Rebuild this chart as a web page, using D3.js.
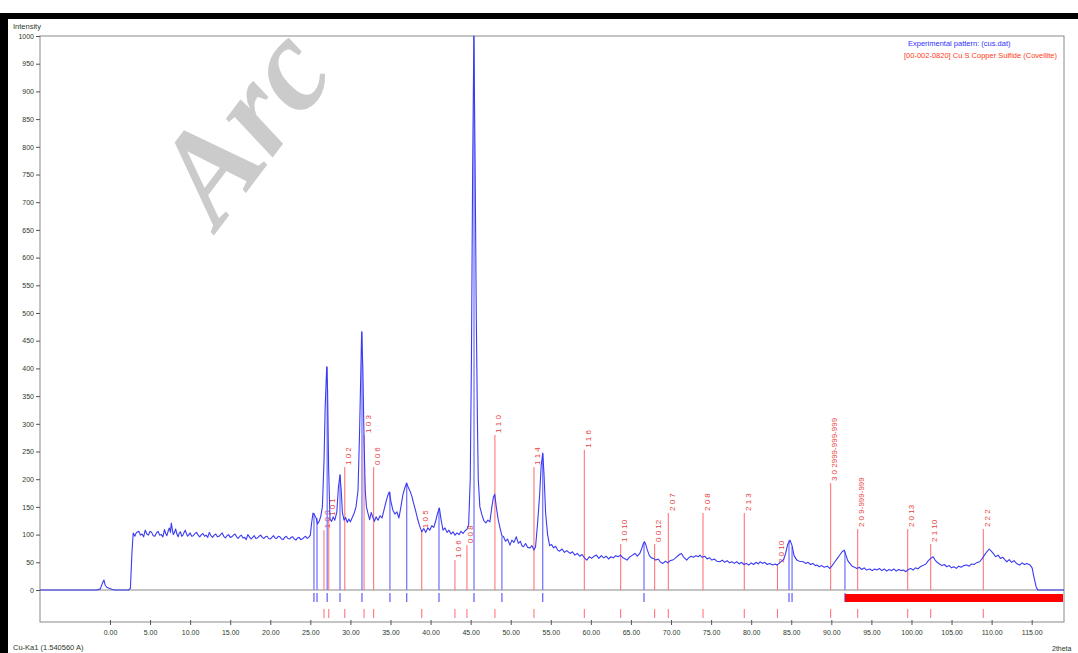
<!DOCTYPE html>
<html>
<head>
<meta charset="utf-8">
<script src="https://cdn.jsdelivr.net/npm/d3@7"></script>
<style>
body { margin: 0; background: #fff; }
svg { display: block; font-family: "Liberation Sans", Arial, sans-serif; }
</style>
</head>
<body>
<svg id="chart" width="1078" height="653"></svg>
<script>
// experimental pattern (2theta, intensity)
const pattern = [
  [-8.73,0],[-1.6,0],[-1.2,2],[-0.95,12],[-0.75,18],[-0.6,9],[-0.4,5],[-0.1,3],[0.3,1],[0.6,0],[2.3,0],[2.55,3],[2.75,70],[2.9,103],
  [3.1,97],[3.3,104],[3.6,106],[3.8,99],[4.0,101],[4.2,96],[4.4,108],[4.6,101],[4.8,99],[5.0,106],[5.2,104],[5.4,98],[5.6,97],[5.8,103],
  [6.0,106],[6.2,99],[6.4,100],[6.6,96],[6.8,109],[6.95,102],[7.1,98],[7.25,106],[7.4,112],[7.55,104],[7.65,121],[7.8,108],[7.9,100],
  [8.05,104],[8.2,110],[8.35,101],[8.5,96],[8.65,103],[8.8,105],[8.95,97],[9.1,99],[9.25,104],[9.4,108],[9.55,101],[9.7,97],[9.85,100],
  [10.0,103],[10.2,97],[10.4,98],[10.6,102],[10.8,104],[11.0,99],[11.2,96],[11.4,100],[11.6,102],[11.8,97],[12.0,99],[12.2,95],[12.4,104],
  [12.6,98],[12.8,95],[13.0,99],[13.2,101],[13.4,96],[13.6,97],[13.8,100],[14.0,103],[14.2,97],[14.4,94],[14.6,98],[14.8,100],[15.0,95],
  [15.2,96],[15.4,99],[15.6,101],[15.8,96],[16.0,93],[16.2,97],[16.4,99],[16.6,94],[16.8,95],[17.0,91],[17.2,100],[17.4,96],[17.6,92],
  [17.8,95],[18.0,98],[18.2,93],[18.4,94],[18.6,97],[18.8,99],[19.0,95],[19.2,93],[19.4,96],[19.6,97],[19.8,93],[20.0,92],[20.2,95],
  [20.4,98],[20.6,94],[20.8,93],[21.0,97],[21.2,96],[21.4,92],[21.6,91],[21.8,95],[22.0,97],[22.2,93],[22.4,92],[22.6,95],[22.8,96],
  [23.0,92],[23.2,90],[23.4,94],[23.6,95],[23.8,91],[24.0,92],[24.2,95],[24.4,97],[24.6,93],[24.8,95],
  [25.0,99],[25.15,120],[25.33,139],[25.5,136],[25.7,131],[25.9,119],[26.1,124],[26.3,133],[26.5,150],[26.7,230],[26.85,330],[27.04,403],
  [27.15,360],[27.28,220],[27.45,128],[27.65,124],[27.85,132],[28.05,126],[28.3,140],[28.5,185],[28.7,208],[28.85,180],[29.0,140],
  [29.2,126],[29.4,131],[29.6,122],[29.8,128],[30.0,123],[30.2,130],[30.45,138],[30.7,150],[30.95,180],[31.15,290],[31.4,466],[31.55,400],
  [31.7,270],[31.85,180],[32.0,150],[32.2,138],[32.4,127],[32.6,140],[32.8,131],[33.0,124],[33.2,132],[33.45,126],[33.7,134],[33.95,130],
  [34.2,145],[34.45,160],[34.65,170],[34.85,177],[35.05,160],[35.3,144],[35.55,137],[35.8,141],[36.05,130],[36.3,150],[36.55,172],
  [36.8,185],[37.0,193],[37.2,186],[37.45,178],[37.65,170],[37.85,158],[38.1,145],[38.35,130],[38.6,117],[38.9,105],[39.15,111],
  [39.4,104],[39.65,112],[39.9,108],[40.15,116],[40.4,113],[40.65,125],[40.9,140],[41.1,148],[41.3,128],[41.55,108],[41.8,112],
  [42.05,104],[42.3,108],[42.55,101],[42.8,105],[43.05,99],[43.3,103],[43.55,100],[43.8,106],[44.05,102],[44.3,107],[44.55,110],
  [44.75,118],[44.95,200],[45.1,420],[45.25,760],[45.4,1000],[45.55,780],[45.7,500],[45.85,300],[45.95,200],[46.15,150],[46.4,136],
  [46.65,125],[46.9,121],[47.15,126],[47.4,123],[47.65,150],[47.85,168],[48.0,173],[48.2,150],[48.45,126],[48.7,110],[48.9,98],
  [49.1,96],[49.35,88],[49.6,92],[49.9,81],[50.15,90],[50.4,86],[50.7,96],[50.95,84],[51.2,88],[51.4,80],[51.6,78],[51.85,84],
  [52.1,77],[52.4,76],[52.65,80],[52.9,72],[53.1,78],[53.35,120],[53.6,170],[53.8,225],[54.0,247],[54.15,210],[54.35,140],[54.6,100],
  [54.85,80],[55.1,82],[55.35,76],[55.6,79],[55.85,72],
  [56.1,70],[56.4,74],[56.7,68],[57.0,71],[57.4,66],[57.7,69],[58.0,63],[58.3,66],[58.6,61],[58.9,64],[59.2,58],[59.5,54],[59.8,60],
  [60.1,57],[60.4,61],[60.7,63],[61.0,57],[61.3,62],[61.6,58],[61.9,61],[62.2,56],[62.5,60],[62.8,58],[63.1,62],[63.4,60],[63.7,63],
  [64.0,58],[64.3,56],[64.5,54],[64.8,59],[65.1,62],[65.5,66],[65.8,61],[66.1,66],[66.35,75],[66.55,84],[66.7,87],[66.85,82],[67.05,72],
  [67.3,62],[67.55,58],[67.8,57],[68.1,54],[68.4,56],[68.7,50],[69.0,48],[69.3,52],[69.6,49],[69.9,53],[70.2,54],[70.5,57],[70.8,61],
  [71.05,64],[71.3,66],[71.55,60],[71.95,54],[72.2,58],[72.5,61],[72.8,59],[73.1,62],[73.4,60],[73.6,63],[73.9,59],[74.2,61],[74.5,56],
  [74.8,58],[75.1,54],[75.4,56],[75.7,52],[76.1,51],[76.4,54],[76.7,50],[77.0,53],[77.3,49],[77.6,51],[77.9,48],[78.2,51],[78.5,47],
  [78.8,50],[79.1,46],[79.4,48],[79.7,45],[80.0,49],[80.3,46],[80.6,50],[80.9,47],[81.1,51],[81.4,48],[81.7,50],[82.0,46],[82.3,48],
  [82.7,45],[83.0,47],[83.2,45],[83.5,48],[83.8,52],[84.05,55],[84.3,66],[84.55,82],[84.85,90],[85.1,80],[85.35,62],[85.7,54],[86.0,52],
  [86.5,51],[86.8,48],[87.1,50],[87.4,46],[87.7,48],[88.0,44],[88.2,45],[88.5,42],[88.8,44],[89.1,41],[89.5,43],[89.8,39],[90.1,44],
  [90.4,50],[90.8,58],[91.1,64],[91.35,69],[91.6,72],[91.85,62],[92.05,53],[92.3,48],[92.6,43],[92.9,41],[93.2,39],[93.5,41],[93.8,37],
  [94.1,40],[94.4,36],[94.8,38],[95.1,35],[95.4,38],[95.7,36],[96.0,39],[96.3,35],[96.6,38],[96.9,34],[97.2,37],[97.5,35],[97.8,38],
  [98.1,34],[98.4,37],[98.7,35],[99.0,36],[99.3,33],[99.6,37],[99.9,39],[100.2,36],[100.5,40],[100.8,38],[101.1,42],[101.4,44],
  [101.8,47],[102.1,53],[102.4,57],[102.7,60],[102.95,54],[103.2,50],[103.5,47],[103.8,44],[104.1,46],[104.4,42],[104.7,44],[105.0,40],
  [105.3,42],[105.6,39],[105.9,43],[106.2,41],[106.5,44],[106.9,45],[107.2,43],[107.5,47],[107.8,46],[108.1,49],[108.5,51],[108.8,56],
  [109.1,63],[109.4,69],[109.7,74],[109.95,70],[110.2,66],[110.5,60],[110.8,63],[111.1,57],[111.4,59],[111.7,54],[111.9,51],[112.2,55],
  [112.5,50],[112.8,53],[113.1,48],[113.5,45],[113.8,49],[114.1,46],[114.4,48],[114.8,45],[115.05,40],[115.3,22],[115.55,6],[115.75,0],
  [119.03,0]
];

// peaks found in the pattern (blue sticks)
const peakPos = [25.45, 25.83, 27.1, 28.7, 31.44, 34.93, 37.02, 41.05, 45.42, 48.9, 53.99, 66.63, 84.72, 85.1, 91.7];
const peakInt = [139, 130, 403, 208, 466, 177, 193, 148, 1000, 96, 247, 87, 90, 78, 70];

// reference card 00-002-0820 covellite (red sticks)
const refPos = [26.7, 27.3, 29.3, 31.7, 32.9, 38.9, 43.04, 44.54, 48.03, 52.9, 59.18, 63.72, 67.96, 69.66, 73.99, 79.14, 83.28, 89.92, 93.29, 99.53, 102.4, 108.96];
const refInt = [108, 130, 222, 280, 222, 108, 54, 81, 280, 222, 253, 83, 83, 139, 139, 139, 45, 193, 110, 110, 83, 110];
const refLabel = ['1 0 0', '1 0 1', '1 0 2', '1 0 3', '0 0 6', '1 0 5', '1 0 6', '0 0 8', '1 1 0', '1 1 4', '1 1 6', '1 0 10', '0 0 12',
  '2 0 7', '2 0 8', '2 1 3', '2 0 10', '3 0 2999-999-999', '2 0 9-999-999', '2 0 13', '2 1 10', '2 2 2'];

// excluded range (red bar)
const excluded = [91.7, 119.03];

const yTicks = d3.range(0, 1001, 50);
const xTicks = d3.range(0, 116, 5);

const svg = d3.select('#chart');
const box = { left: 40, right: 1064, top: 36, zero: 590, bottom: 622 };
const band = { blueTop: 593, blueBot: 602, redTop: 609, redBot: 618 };

const x = d3.scaleLinear().domain([-8.73, 119.03]).range([box.left, box.right]);
const y = d3.scaleLinear().domain([0, 1000]).range([box.zero, box.top]);

// black frame of the screenshot
svg.append('rect').attr('x', 0).attr('y', 13).attr('width', 1078).attr('height', 6).attr('fill', '#000');
svg.append('rect').attr('x', 0).attr('y', 13).attr('width', 8).attr('height', 640).attr('fill', '#000');

// plot box
svg.append('rect')
  .attr('x', box.left).attr('y', box.top)
  .attr('width', box.right - box.left).attr('height', box.bottom - box.top)
  .attr('fill', 'none').attr('stroke', '#8a8a8a').attr('stroke-width', 1);
svg.append('line')
  .attr('x1', box.left).attr('x2', box.right)
  .attr('y1', y(0)).attr('y2', y(0))
  .attr('stroke', '#8a8a8a');

// y axis
const yAxis = svg.append('g')
  .attr('transform', 'translate(' + box.left + ',0)')
  .call(d3.axisLeft(y).tickValues(yTicks).tickSize(4).tickPadding(2).tickFormat(d3.format('d')));
yAxis.select('.domain').remove();
yAxis.selectAll('line').attr('stroke', '#555');
yAxis.selectAll('text').attr('font-size', '7px').attr('fill', '#2c3a2a').attr('font-family', null);

// x axis
const xAxis = svg.append('g')
  .attr('transform', 'translate(0,' + box.bottom + ')')
  .call(d3.axisBottom(x).tickValues(xTicks).tickSize(3).tickPadding(5).tickFormat(d3.format('.2f')));
xAxis.select('.domain').remove();
xAxis.selectAll('line').attr('stroke', '#555').attr('y1', -2);
xAxis.selectAll('text').attr('font-size', '7px').attr('fill', '#2c3a2a').attr('font-family', null);

// reference sticks and labels
const refs = refPos.map((p, i) => ({ pos: p, int: refInt[i], label: refLabel[i] }));
svg.append('g').selectAll('line').data(refs).join('line')
  .attr('x1', d => x(d.pos)).attr('x2', d => x(d.pos))
  .attr('y1', y(0)).attr('y2', d => y(d.int))
  .attr('stroke', '#ff6a6a').attr('stroke-width', 1);
svg.append('g').selectAll('text').data(refs).join('text')
  .attr('transform', d => 'translate(' + (x(d.pos) + 6.5) + ',' + (y(d.int) - 2) + ') rotate(-90)')
  .attr('font-size', '8px')
  .attr('fill', '#e84444')
  .text(d => d.label);
svg.append('g').selectAll('line').data(refs).join('line')
  .attr('x1', d => x(d.pos)).attr('x2', d => x(d.pos))
  .attr('y1', band.redTop).attr('y2', band.redBot)
  .attr('stroke', '#ff6a6a').attr('stroke-width', 1);

// peak sticks
const peaks = peakPos.map((p, i) => ({ pos: p, int: peakInt[i] }));
svg.append('g').selectAll('line').data(peaks).join('line')
  .attr('x1', d => x(d.pos)).attr('x2', d => x(d.pos))
  .attr('y1', y(0)).attr('y2', d => y(d.int))
  .attr('stroke', '#7878ff').attr('stroke-width', 1.3);
svg.append('g').selectAll('line').data(peaks).join('line')
  .attr('x1', d => x(d.pos)).attr('x2', d => x(d.pos))
  .attr('y1', band.blueTop).attr('y2', band.blueBot)
  .attr('stroke', '#6a6aff').attr('stroke-width', 1.3);

// excluded range bar
svg.append('rect')
  .attr('x', x(excluded[0])).attr('y', 594)
  .attr('width', x(excluded[1]) - x(excluded[0]) - 1).attr('height', 8)
  .attr('fill', '#ff0000');

// experimental pattern
svg.append('path')
  .datum(pattern)
  .attr('d', d3.line().x(d => x(d[0])).y(d => y(d[1])))
  .attr('fill', 'none')
  .attr('stroke', '#3a3af2')
  .attr('stroke-width', 1.1)
  .attr('stroke-linejoin', 'round');

// legend and captions
svg.append('text').attr('x', 908).attr('y', 46).attr('font-size', '7.5px').attr('fill', '#3030ff')
  .text('Experimental pattern: (cus.dat)');
svg.append('text').attr('x', 904).attr('y', 58).attr('font-size', '7.5px').attr('fill', '#ff3a1a')
  .text('[00-002-0820] Cu S Copper Sulfide (Covellite)');
svg.append('text').attr('x', 13).attr('y', 29).attr('font-size', '7.5px').attr('fill', '#2c3a2a').text('Intensity');
svg.append('text').attr('x', 13).attr('y', 650).attr('font-size', '7.5px').attr('fill', '#2c3a2a').text('Cu-Ka1 (1.540560 A)');
svg.append('text').attr('x', 1052).attr('y', 651).attr('font-size', '7px').attr('fill', '#2c3a2a').text('2theta');

// watermark
svg.append('text')
  .attr('transform', 'translate(218,230) rotate(-53)')
  .attr('font-family', '"Liberation Serif", serif')
  .attr('font-weight', 'bold')
  .attr('font-style', 'italic')
  .attr('font-size', '132px')
  .attr('fill', '#c2c2c2')
  .attr('opacity', 0.85)
  .text('Arc');
</script>
</body>
</html>
